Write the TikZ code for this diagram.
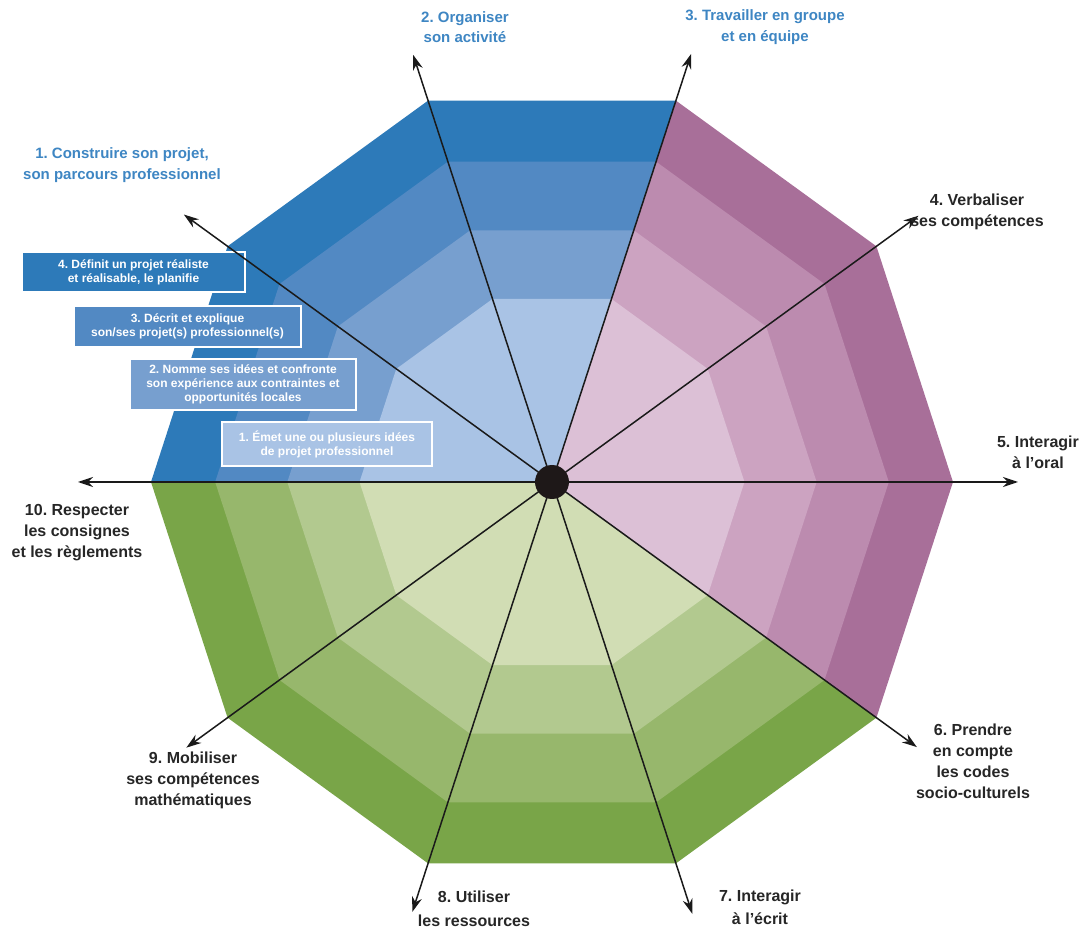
\documentclass[tikz,border=0pt]{standalone}
\usepackage{fontspec}
\setmainfont{Liberation Sans}
\usetikzlibrary{arrows.meta}
\definecolor{blueA}{HTML}{2D7AB9}
\definecolor{blueB}{HTML}{5289C3}
\definecolor{blueC}{HTML}{779FCF}
\definecolor{blueD}{HTML}{A9C3E5}
\definecolor{purA}{HTML}{A86F99}
\definecolor{purB}{HTML}{BC8BAF}
\definecolor{purC}{HTML}{CCA3C1}
\definecolor{purD}{HTML}{DCC0D6}
\definecolor{greA}{HTML}{79A548}
\definecolor{greB}{HTML}{97B76C}
\definecolor{greC}{HTML}{B2C98F}
\definecolor{greD}{HTML}{D1DDB4}
\definecolor{labblue}{HTML}{3E86C3}
\definecolor{labgray}{HTML}{262626}
\definecolor{dotc}{HTML}{1E1818}
\definecolor{axisc}{HTML}{1A1A1A}
\newcommand\sectorband[4]{%
  \fill[#4] (0,0) \foreach \k in {0,...,#2} { -- ({#1+36*\k}:{#3*401}) } -- cycle;}
\begin{document}
\frenchspacing
\begin{tikzpicture}[x=1pt,y=1pt,
  lbl/.style={font=\bfseries\fontsize{16}{21}\selectfont, text=labgray, align=center, inner sep=0pt},
  blbl/.style={lbl, font=\bfseries\fontsize{15}{20.5}\selectfont, text=labblue},
  lvlbox/.style={draw=white, line width=2pt, text=white, font=\bfseries\fontsize{12}{14}\selectfont, align=center, inner sep=0pt},
  axis/.style={line width=1.5pt, draw=axisc, -{Stealth[length=15pt,width=10pt]}}
]
\useasboundingbox (-552,-452) rectangle (532,482);
\fill[white] (-552,-452) rectangle (532,482);
% bands: blue 72..180, purple -36..72, green 180..324
\sectorband{72}{3}{1}{blueA}
\sectorband{72}{3}{0.84}{blueB}
\sectorband{72}{3}{0.66}{blueC}
\sectorband{72}{3}{0.48}{blueD}
\sectorband{-36}{3}{1}{purA}
\sectorband{-36}{3}{0.84}{purB}
\sectorband{-36}{3}{0.66}{purC}
\sectorband{-36}{3}{0.48}{purD}
\sectorband{180}{4}{1}{greA}
\sectorband{180}{4}{0.84}{greB}
\sectorband{180}{4}{0.66}{greC}
\sectorband{180}{4}{0.48}{greD}
% level boxes
\node[lvlbox, fill=blueA, minimum width=223pt, minimum height=40pt] (b4) at (-418.5,210) {4. Définit un projet réaliste\\et réalisable, le planifie};
\node[lvlbox, fill=blueB, minimum width=227pt, minimum height=41pt] (b3) at (-364.5,155.5) {3. Décrit et explique\\son/ses projet(s) professionnel(s)};
\node[lvlbox, fill=blueC, minimum width=226pt, minimum height=51pt] (b2) at (-309,97.5) {2. Nomme ses idées et confronte\\son expérience aux contraintes et\\opportunités locales};
\node[lvlbox, fill=blueD, minimum width=210pt, minimum height=44pt] (b1) at (-225,38) {1. Émet une ou plusieurs idées\\de projet professionnel};
% axes
\coordinate (o) at (0,0);
\coordinate (t1) at (144:455);
\coordinate (t2) at (108:449);
\coordinate (t3) at (72:450);
\coordinate (t4) at (36:453);
\coordinate (t5) at (0:466);
\coordinate (t6) at (-36:451);
\coordinate (t7) at (-72:454);
\coordinate (t8) at (-108:452);
\coordinate (t9) at (216:452);
\coordinate (t10) at (180:474);
\foreach \i in {1,...,10} { \draw[axis] (o) -- (t\i); }
\node[circle, fill=dotc, minimum size=34pt, inner sep=0pt] (c) at (o) {};
% labels
\node[blbl] (l1) at (-430,317) {1. Construire son projet,\\son parcours professionnel};
\node[blbl] (l2) at (-87,455) {2. Organiser\\son activité};
\node[blbl] (l3) at (213,455) {3. Travailler en groupe\\et en équipe};
\node[lbl] (l4) at (425,270) {4. Verbaliser\\ses compétences};
\node[lbl] (l5) at (486,30) {5. Interagir\\à l'oral};
\node[lbl] (l6) at (421,-279) {6. Prendre\\en compte\\les codes\\socio-culturels};
\node[lbl, font=\bfseries\fontsize{16}{23}\selectfont] (l7) at (208,-425.5) {7. Interagir\\à l'écrit};
\node[lbl, font=\bfseries\fontsize{16}{24}\selectfont] (l8) at (-78,-427) {8. Utiliser\\les ressources};
\node[lbl] (l9) at (-359,-298) {9. Mobiliser\\ses compétences\\mathématiques};
\node[lbl] (l10) at (-475,-51) {10. Respecter\\les consignes\\et les règlements};
\end{tikzpicture}
\end{document}
